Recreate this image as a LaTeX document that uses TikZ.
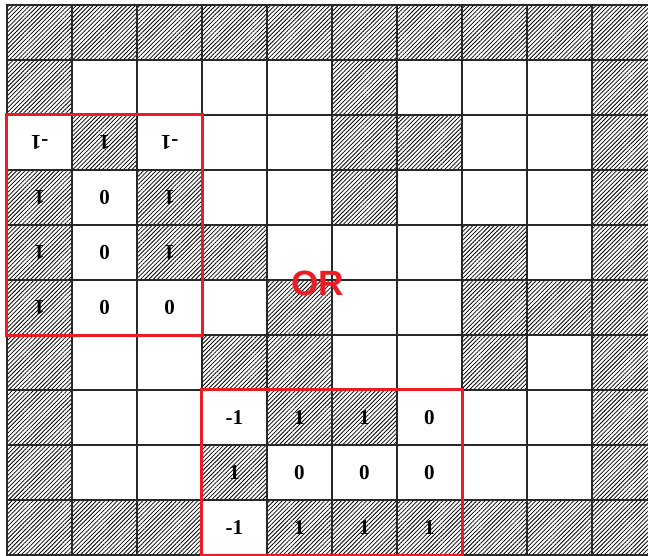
\documentclass[tikz,border=0pt]{standalone}
\usepackage{fontspec}
\newfontfamily\orfont{Liberation Sans}
\newfontfamily\numfont{Liberation Serif}
\usepackage{tikz}
\definecolor{boxred}{RGB}{237,28,36}
\definecolor{gridgray}{RGB}{40,40,40}
\usetikzlibrary{patterns.meta,positioning}

\tikzset{
  o/.style={draw=gridgray,line width=0.6pt,minimum width=1.3cm,minimum height=1.1cm,inner sep=0pt},
  h/.style={o,pattern={Lines[angle=45,distance=1.7pt,line width=0.45pt]}},
  num/.style={font=\numfont\fontsize{12}{14}\selectfont\bfseries,inner sep=0pt},
  flipnum/.style={num,rotate=180},
  redbox/.style={draw=boxred,line width=2pt}
}

\begin{document}
\begin{tikzpicture}
  \useasboundingbox (-0.14,0.1) rectangle (12.82,-11.0);
  \clip (-0.14,0.1) rectangle (12.82,-11.0);
  % Grid of cells (h = hatched, o = open)
  \foreach \line [count=\r] in {
      {h,h,h,h,h,h,h,h,h,h},
      {h,o,o,o,o,h,o,o,o,h},
      {o,h,o,o,o,h,h,o,o,h},
      {h,o,h,o,o,h,o,o,o,h},
      {h,o,h,h,o,o,o,h,o,h},
      {h,o,o,o,h,o,o,h,h,h},
      {h,o,o,h,h,o,o,h,o,h},
      {h,o,o,o,h,h,o,o,o,h},
      {h,o,o,h,o,o,o,o,o,h},
      {h,h,h,o,h,h,h,h,h,h}}{
    \foreach \k [count=\c] in \line {
      \node[\k] (c-\r-\c) at ({1.3*\c-0.65},{-1.1*\r+0.55}) {};
    }
  }
  % Upper window (printed upside down)
  \foreach \v [count=\c] in {-1,1,-1} \node[flipnum] (a-3-\c) at (c-3-\c) {\v};
  \foreach \v [count=\c] in {1,0,1}   \node[flipnum] (a-4-\c) at (c-4-\c) {\v};
  \foreach \v [count=\c] in {1,0,1}   \node[flipnum] (a-5-\c) at (c-5-\c) {\v};
  \foreach \v [count=\c] in {1,0,0}   \node[flipnum] (a-6-\c) at (c-6-\c) {\v};
  % Lower window
  \foreach \v [count=\c from 4] in {-1,1,1,0} \node[num] (b-8-\c) at (c-8-\c) {\v};
  \foreach \v [count=\c from 4] in {1,0,0,0}  \node[num] (b-9-\c) at (c-9-\c) {\v};
  \foreach \v [count=\c from 4] in {-1,1,1,1} \node[num] (b-10-\c) at (c-10-\c) {\v};
  % Red frames
  \draw[redbox] (c-3-1.north west) rectangle (c-6-3.south east);
  \draw[redbox] (c-8-4.north west) rectangle (c-10-7.south east);
  % OR
  \node[text=boxred,font=\orfont\fontsize{20}{24}\selectfont\bfseries,inner sep=0pt]
       (ortext) at (6.22,-5.56) {OR};
\end{tikzpicture}
\end{document}
